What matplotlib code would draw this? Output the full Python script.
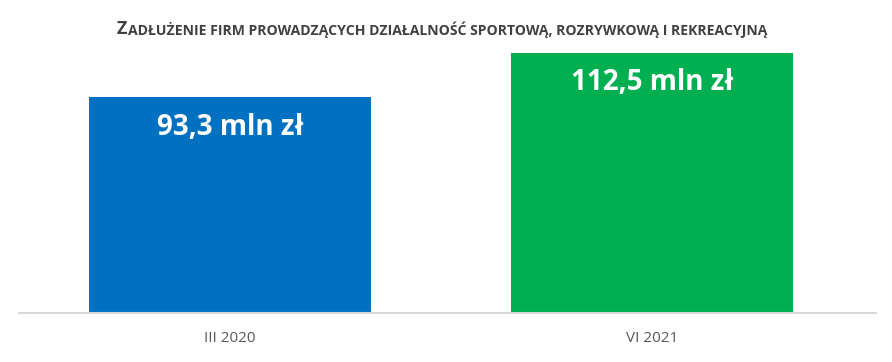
import matplotlib
matplotlib.use("Agg")
import matplotlib.pyplot as plt

categories = ["III 2020", "VI 2021"]
values = [93.3, 112.5]
labels = ["93,3 mln zł", "112,5 mln zł"]
colors = ["#0070C0", "#00B050"]

W, H = 892, 362
fig = plt.figure(figsize=(W / 100, H / 100), dpi=100)
left, right, bottom, top = 19, 876, 313, 45
ax = fig.add_axes([left / W, 1 - bottom / H, (right - left) / W, (bottom - top) / H])

x = list(range(len(categories)))
ax.bar(x, values, width=0.668, color=colors, zorder=2)
ax.set_xlim(-0.5, 1.531)
ax.set_ylim(0, 268 / (260 / 112.5))

for xi, v, lab in zip(x, values, labels):
    ax.annotate(lab, xy=(xi, v), xytext=(0, -30), textcoords="offset pixels",
                ha="center", va="center", color="white", fontsize=20,
                fontweight="bold", family="Open Sans", zorder=3)

for s in ["top", "right", "left"]:
    ax.spines[s].set_visible(False)
ax.spines["bottom"].set_color("#D9D9D9")
ax.spines["bottom"].set_linewidth(1.5)
ax.set_yticks([])
ax.set_xticks(x)
ax.set_xticklabels(categories, fontsize=11, color="#595959", family="Open Sans")
ax.tick_params(axis="x", length=0, pad=13)

# small-caps title
t1 = fig.text(117 / W, 1 - 34 / H, "Z", fontsize=13, fontweight="bold",
              color="#404040", family="Open Sans", va="baseline", ha="left")
ax.annotate("ADŁUŻENIE FIRM PROWADZĄCYCH DZIAŁALNOŚĆ SPORTOWĄ, ROZRYWKOWĄ I REKREACYJNĄ",
            xy=(1, 0), xycoords=t1, xytext=(0.5, 0), textcoords="offset points",
            fontsize=10.1, fontweight="bold", color="#404040", family="Open Sans",
            va="bottom", ha="left", annotation_clip=False)

fig.savefig("out.png", dpi=100)
